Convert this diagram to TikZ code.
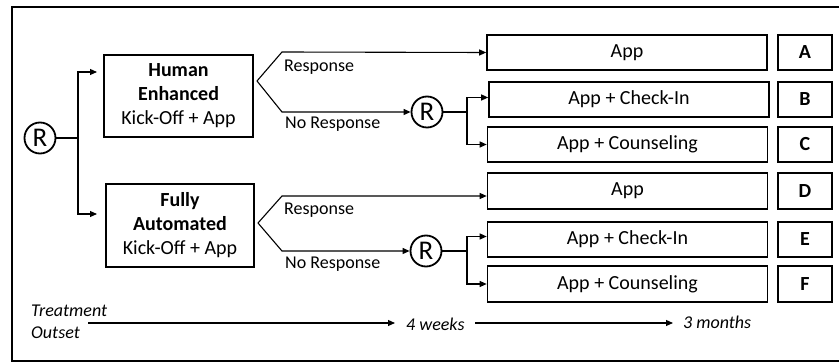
\documentclass[tikz,border=0pt]{standalone}
\usepackage{fontspec}
\setmainfont{Carlito}
\usetikzlibrary{arrows.meta}
\begin{document}
\begin{tikzpicture}[x=1pt,y=-1pt,
  box/.style={draw,line width=1.6pt,minimum height=35pt,inner sep=0pt,font=\fontsize{20}{22}\selectfont},
  armbox/.style={box,minimum width=280pt},
  letbox/.style={box,minimum width=54pt,font=\fontsize{20}{22}\selectfont\bfseries},
  grpbox/.style={draw,line width=1.6pt,align=center,inner sep=0pt,font=\fontsize{20}{24}\selectfont},
  rnd/.style={circle,draw,line width=1.8pt,minimum size=31pt,inner sep=0pt,font=\fontsize{27}{27}\selectfont},
  conn/.style={line width=1.1pt},
  arr/.style={conn,-{Triangle[length=7pt,width=6pt]}},
  lbl/.style={inner sep=0pt,anchor=base west,font=\fontsize{18}{20}\selectfont},
  tl/.style={inner sep=0pt,font=\fontsize{18}{20}\selectfont\itshape}]
\useasboundingbox (0,0) rectangle (839,363);
\draw[line width=2.4pt] (839,7) -- (12,7) -- (12,361) -- (839,361);

\node[rnd] (R0) at (40,138) {R};
\node[grpbox,minimum width=149pt,minimum height=82pt] (HE) at (178.5,96) {\textbf{Human}\\\textbf{Enhanced}\\Kick-Off + App};
\node[grpbox,minimum width=148pt,minimum height=83pt] (FA) at (180,225.5) {\textbf{Fully}\\\textbf{Automated}\\Kick-Off + App};

\node[armbox] (A) at (627,52.5) {App};
\node[armbox] (B) at (629,99.5) {App + Check-In};
\node[armbox] (C) at (627.5,144.5) {App + Counseling};
\node[armbox,minimum height=36pt] (D) at (627.5,191) {App};
\node[armbox] (E) at (627.5,239.5) {App + Check-In};
\node[armbox,minimum height=36pt] (F) at (627.5,284) {App + Counseling};

\node[letbox] (LA) at (805,52.5) {A};
\node[letbox] (LB) at (805,99.5) {B};
\node[letbox] (LC) at (805,144.5) {C};
\node[letbox,minimum height=36pt] (LD) at (805,191) {D};
\node[letbox] (LE) at (805,239.5) {E};
\node[letbox,minimum height=36pt] (LF) at (805,284) {F};

\node[rnd] (R1) at (427,112) {R};
\node[rnd] (R2) at (426,251) {R};

% first randomisation
\coordinate (j0) at (78,138);
\coordinate (heIn) at (97,72);
\coordinate (faIn) at (97,214);
\draw[conn] (R0.east) -- (j0);
\draw[arr] (j0) |- (heIn);
\draw[arr] (j0) |- (faIn);

% upper chevron
\coordinate (v1) at (257,81);
\draw[arr] (v1) -- (282,52) -- (A.west);
\draw[arr] (v1) -- (282,112) -- (R1.west);
\node[lbl] (r1) at (284,72) {Response};
\node[lbl] (n1) at (285,129) {No Response};

% R1 split
\coordinate (j1) at (467,112);
\draw[conn] (R1.east) -- (j1);
\draw[arr] (j1) |- ([yshift=2pt]B.west);
\draw[arr] (j1) |- (C.west);

% lower chevron
\coordinate (v2) at (258,223);
\draw[arr] (v2) -- (282,196) -- ([yshift=-5pt]D.west);
\draw[arr] (v2) -- (282,251) -- (R2.west);
\node[lbl] (r2) at (284,215) {Response};
\node[lbl] (n2) at (285,269) {No Response};

% R2 split
\coordinate (j2) at (467,251);
\draw[conn] (R2.east) -- (j2);
\draw[arr] (j2) |- ([yshift=3pt]E.west);
\draw[arr] (j2) |- (F.west);

% timeline
\node[tl,anchor=base west] (tt) at (31,317) {Treatment};
\node[tl,anchor=base west] (to) at (31,339) {Outset};
\coordinate (t0) at (88,323);
\node[tl,anchor=west] (tw) at (406,324) {4 weeks};
\node[tl,anchor=west] (tm) at (683,322) {3 months};
\draw[arr] (t0) -- (395,323);
\draw[arr] (475,323) -- (673,323);
\end{tikzpicture}
\end{document}
